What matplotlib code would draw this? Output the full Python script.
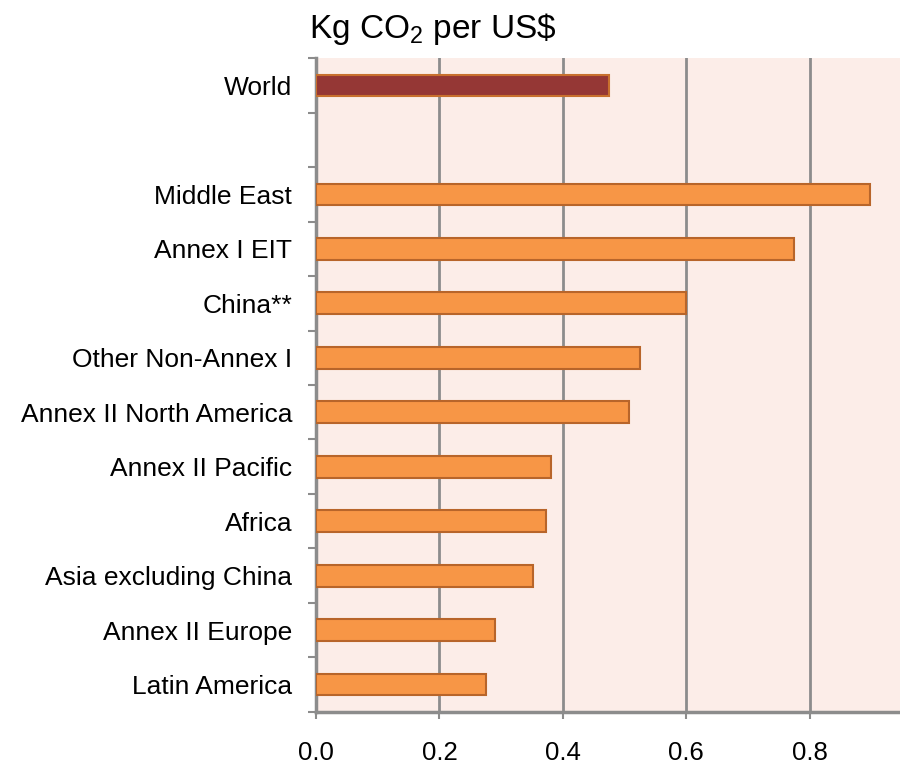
import matplotlib.pyplot as plt
import numpy as np

plt.rcParams['font.family'] = ['Liberation Sans', 'DejaVu Sans']
plt.rcParams['mathtext.fontset'] = 'custom'
plt.rcParams['mathtext.rm'] = 'Liberation Sans'

regions = ["World", "", "Middle East", "Annex I EIT", "China**", "Other Non-Annex I",
           "Annex II North America", "Annex II Pacific", "Africa",
           "Asia excluding China", "Annex II Europe", "Latin America"]
values = [0.475, None, 0.897, 0.775, 0.600, 0.525, 0.507, 0.381, 0.373, 0.352, 0.290, 0.276]
xticks = [0.0, 0.2, 0.4, 0.6, 0.8]

fig = plt.figure(figsize=(9, 7.67), dpi=100)
ax = fig.add_axes([0.351, 0.072, 0.649, 0.852])
ax.set_facecolor('#fcede8')

for i, v in enumerate(values):
    if v is None:
        continue
    if i == 0:
        fc, ec = '#953735', '#c8702e'
    else:
        fc, ec = '#f79646', '#b8652a'
    ax.barh(i, v, height=0.4, color=fc, edgecolor=ec, linewidth=1.5, zorder=3)

ypos = np.arange(len(regions))
ax.set_ylim(len(regions) - 0.5, -0.5)
ax.set_xlim(0, 0.946)

ax.set_yticks(ypos)
ax.set_yticklabels(regions, fontsize=19)
ax.set_yticks(np.arange(-0.5, len(regions)), minor=True)
ax.tick_params(axis='y', which='major', length=0, pad=17)
ax.tick_params(axis='y', which='minor', length=6, width=1.5, color='#8c8c8c')

ax.set_xticks(xticks)
ax.set_xticklabels([f"{t:.1f}" for t in xticks], fontsize=18.5)
ax.tick_params(axis='x', length=5, width=1.5, color='#8c8c8c', pad=16)

ax.grid(axis='x', color='#8c8c8c', linewidth=2, zorder=1)
ax.set_axisbelow(True)

for side in ['top', 'right']:
    ax.spines[side].set_visible(False)
for side in ['left', 'bottom']:
    ax.spines[side].set_color('#8c8c8c')
    ax.spines[side].set_linewidth(2.5)

fig.text(0.343, 0.962, "Kg CO$_2$ per US\\$", fontsize=24, va='center', ha='left')

plt.savefig("out.png", dpi=100)
